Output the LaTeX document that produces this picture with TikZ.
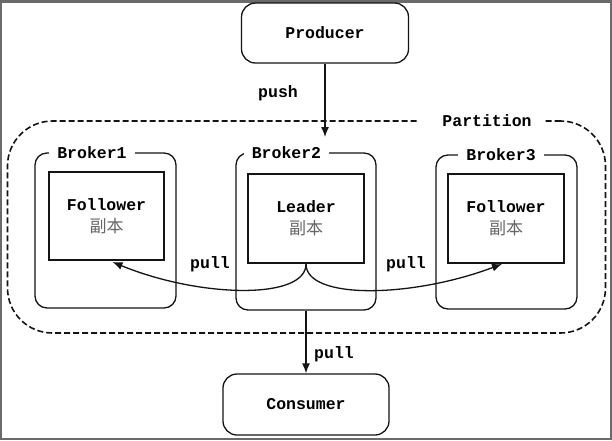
\documentclass[tikz,border=0pt]{standalone}
\usepackage{fontspec}
\setmainfont{Liberation Mono}
\newfontfamily\cjk{Noto Sans CJK SC}
\usetikzlibrary{arrows.meta}
\definecolor{ink}{HTML}{141414}
\definecolor{cjkgray}{HTML}{666666}
\definecolor{framegray}{HTML}{6A6A6A}
\newcommand{\fuben}{{\cjk\fontsize{17}{19}\selectfont\mdseries\color{cjkgray}副本}}
\begin{document}
\begin{tikzpicture}[x=1pt,y=-1pt,
  txt/.style={font=\fontsize{16.5}{19}\selectfont\bfseries, text=black},
  endbox/.style={draw=ink, line width=1.3pt, rounded corners=14pt, txt},
  brokerbox/.style={draw=ink, line width=1.3pt, rounded corners=12pt},
  replbox/.style={draw=ink, line width=2pt, align=center, txt, inner sep=0pt},
  brlabel/.style={fill=white, txt, inner xsep=8pt, inner ysep=2pt},
  partbox/.style={draw=ink, line width=1.6pt, dash pattern=on 6pt off 3pt, rounded corners=45pt},
  conn/.style={draw=ink, line width=1.3pt, -{Latex[length=10pt,width=8pt]}},
  lbl/.style={txt}
]
\useasboundingbox (0,0) rectangle (612,440);
\fill[framegray] (0,0) rectangle (612,440);
\fill[white] (1.5,3) rectangle (610,437.5);

% partition
\node[partbox, minimum width=598pt, minimum height=212pt] (partition) at (306.5,227) {};
\node[fill=white, txt, inner xsep=12pt, inner ysep=3pt] (partlabel) at (480.5,121) {\hspace*{13pt}Partition};

% brokers
\node[brokerbox, minimum width=141pt, minimum height=155pt] (broker1) at (105.5,230.5) {};
\node[brokerbox, minimum width=140pt, minimum height=157pt] (broker2) at (306,231.5) {};
\node[brokerbox, minimum width=141pt, minimum height=154pt] (broker3) at (506.5,232) {};
\node[brlabel] (b1label) at (92,153) {Broker1};
\node[brlabel] (b2label) at (286.5,153) {Broker2};
\node[brlabel] (b3label) at (501,155) {Broker3};

% replicas
\node[replbox, minimum width=115pt, minimum height=88pt] (follower1) at (106.5,216) {Follower\\[3pt]\fuben};
\node[replbox, minimum width=116pt, minimum height=89pt] (leader) at (306,218.5) {Leader\\[3pt]\fuben};
\node[replbox, minimum width=116pt, minimum height=89pt] (follower3) at (506,218.5) {Follower\\[3pt]\fuben};

% producer / consumer
\node[endbox, minimum width=167pt, minimum height=60pt] (producer) at (325,33) {Producer};
\node[endbox, minimum width=166pt, minimum height=61pt] (consumer) at (306,404.5) {Consumer};

% connectors
\coordinate (pushend) at (325,137);
\draw[conn] (producer.south) -- (pushend);
\node[lbl] (pushlbl) at (278,93) {push};

\draw[conn] (broker2.south) -- (consumer.north);
\node[lbl] (pulldown) at (334,354) {pull};

\draw[conn] (leader.south) .. controls (306,300) and (200,298) .. ([xshift=6pt,yshift=-1pt]follower1.south);
\draw[conn] (leader.south) .. controls (306,300) and (412,298) .. ([xshift=-4pt]follower3.south);
\node[lbl] (pullleft) at (210,264) {pull};
\node[lbl] (pullright) at (406,264) {pull};
\end{tikzpicture}
\end{document}
